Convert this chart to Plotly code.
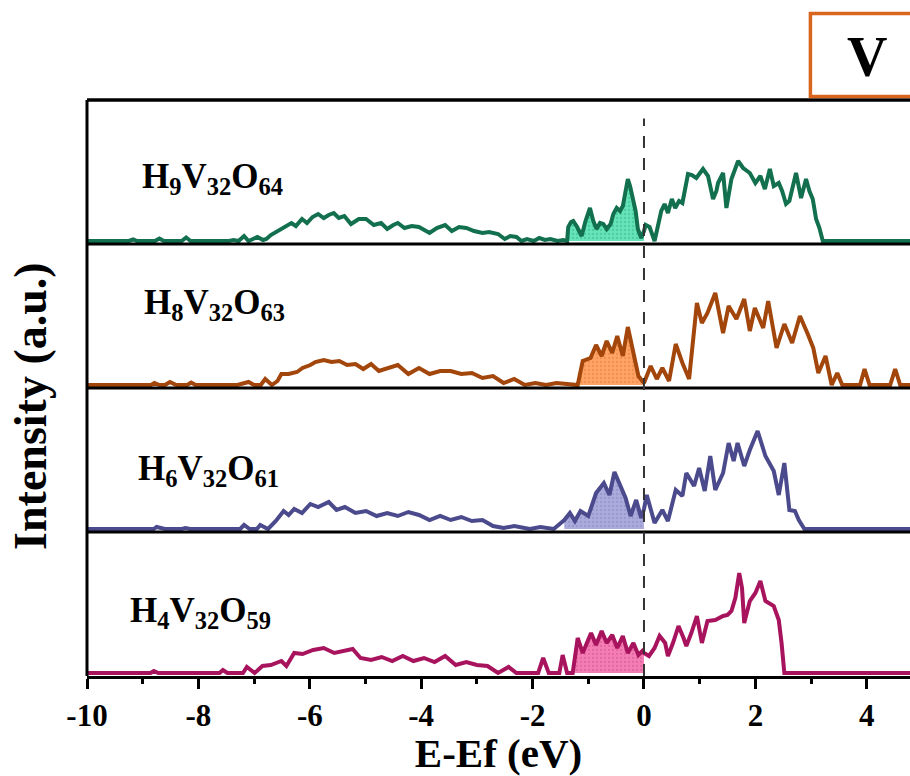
import plotly.graph_objects as go

# ---------------- data ----------------
SERIES_NAMES = ["H<sub>9</sub>V<sub>32</sub>O<sub>64</sub>",
                "H<sub>8</sub>V<sub>32</sub>O<sub>63</sub>",
                "H<sub>6</sub>V<sub>32</sub>O<sub>61</sub>",
                "H<sub>4</sub>V<sub>32</sub>O<sub>59</sub>"]

E_H9 = [-10.0, -9.25, -9.17, -9.1, -8.78, -8.7, -8.62, -8.3, -8.22, -8.14, -7.45, -7.37, -7.28, -7.18, -7.1,
        -7.02, -6.94, -6.84, -6.78, -6.70, -6.58, -6.47, -6.40, -6.33, -6.25, -6.14, -6.05, -5.95, -5.85,
        -5.75, -5.66, -5.57, -5.48, -5.38, -5.26, -5.12, -4.99, -4.85, -4.72, -4.61, -4.50, -4.42, -4.30,
        -4.17, -4.04, -3.95, -3.85, -3.72, -3.57, -3.45, -3.32, -3.19, -3.05, -2.90, -2.78, -2.62, -2.50,
        -2.40, -2.29, -2.20, -2.10, -1.98, -1.88, -1.78, -1.68, -1.55, -1.45, -1.38, -1.36, -1.31, -1.27,
        -1.20, -1.12, -1.05, -0.97, -0.91, -0.85, -0.79, -0.73, -0.67, -0.60, -0.55, -0.49, -0.43, -0.38,
        -0.33, -0.29, -0.25, -0.20, -0.15, -0.11, -0.05, 0.0, 0.03, 0.10, 0.14, 0.19, 0.25, 0.31, 0.37,
        0.43, 0.50, 0.56, 0.63, 0.69, 0.79, 0.86, 0.94, 1.00, 1.06, 1.15, 1.24, 1.30, 1.33, 1.42, 1.48,
        1.57, 1.69, 1.78, 1.90, 2.00, 2.09, 2.17, 2.26, 2.33, 2.42, 2.48, 2.55, 2.61, 2.73, 2.82, 2.91,
        2.97, 3.03, 3.09, 3.15, 3.21, 4.8]
I_H9 = [0, 0, 1.5, 0, 0, 2.5, 0, 0, 3.5, 0, 0, 1, 0, 5, 0,
        2, 4, 1, 2, 6, 10, 13, 16, 18, 15, 22, 18, 24, 27,
        23, 26, 28, 23, 25, 17, 22, 22, 16, 18, 12, 16, 18, 13,
        15, 14, 11, 8, 13, 16, 10, 14, 13, 10, 8, 9, 7, 2,
        5, 4, 0, 2, 0, 3, 1, 2, 0, 1, 0, 14, 19, 20,
        14, 5, 20, 33, 20, 12, 18, 17, 12, 17, 27, 33, 30, 35,
        50, 62, 55, 42, 30, 12, 3, 10, 16, 14, 8, 0, 15, 30, 37,
        28, 42, 33, 40, 38, 67, 66, 63, 68, 72, 65, 42, 50, 58, 68, 33,
        62, 80, 73, 68, 58, 65, 52, 72, 55, 58, 50, 37, 40, 68, 43, 62,
        50, 42, 22, 13, 0, 0]

E_H8 = [-10.0, -9.25, -9.17, -9.08, -8.85, -8.79, -8.70, -8.60, -8.51, -8.40, -8.20, -8.13, -8.05, -7.30,
        -7.10, -7.00, -6.88, -6.80, -6.68, -6.58, -6.51, -6.38, -6.23, -6.13, -5.99, -5.90, -5.75, -5.61,
        -5.47, -5.33, -5.18, -5.04, -4.90, -4.76, -4.61, -4.42, -4.23, -4.04, -3.85, -3.66, -3.47, -3.28,
        -3.09, -2.90, -2.71, -2.52, -2.33, -2.14, -1.95, -1.76, -1.57, -1.30, -1.19, -1.10, -0.96, -0.86,
        -0.76, -0.67, -0.57, -0.48, -0.38, -0.29, -0.20, -0.10, 0.0, 0.12, 0.23, 0.33, 0.45, 0.57, 0.69,
        0.81, 0.95, 1.04, 1.14, 1.28, 1.42, 1.52, 1.66, 1.80, 1.90, 1.99, 2.14, 2.23, 2.38, 2.52, 2.66,
        2.80, 2.94, 3.04, 3.13, 3.26, 3.37, 3.47, 3.56, 3.88, 3.96, 4.05, 4.42, 4.51, 4.60, 4.8]
I_H8 = [0, 0, 1, 0, 0, 2, 0, 0, 3, 0, 0, 2.5, 0, 0,
        3, 0, 0, 6, 0, 4, 11, 11, 13, 17, 20, 23, 25, 23,
        24, 20, 21, 16, 21, 14, 17, 20, 11, 17, 11, 14, 14, 11,
        12, 7, 9, 2, 6, 0, 2, 0, 2, 0, 0, 24, 27, 40,
        29, 44, 32, 49, 29, 58, 36, 9, 2, 19, 6, 17, 4, 41, 22,
        6, 82, 62, 72, 92, 52, 79, 66, 86, 54, 77, 57, 84, 37, 61, 42,
        69, 51, 37, 12, 29, 0, 12, 0, 0, 16, 0, 0, 16, 0, 0]

E_H6 = [-10.0, -9.30, -9.22, -9.15, -8.80, -8.75, -8.60, -8.30, -8.23, -8.15, -7.25, -7.18, -7.08, -6.95,
        -6.89, -6.75, -6.61, -6.47, -6.38, -6.28, -6.14, -5.99, -5.85, -5.66, -5.52, -5.37, -5.18, -4.99,
        -4.80, -4.61, -4.42, -4.23, -4.04, -3.85, -3.66, -3.47, -3.28, -3.09, -2.90, -2.71, -2.52, -2.33,
        -2.05, -1.86, -1.62, -1.43, -1.33, -1.24, -1.14, -1.00, -0.86, -0.72, -0.62, -0.53, -0.43, -0.33,
        -0.24, -0.14, -0.05, 0.0, 0.05, 0.19, 0.33, 0.43, 0.57, 0.69, 0.76, 0.90, 0.99, 1.09, 1.19, 1.28,
        1.42, 1.52, 1.61, 1.68, 1.80, 1.90, 2.04, 2.18, 2.33, 2.42, 2.52, 2.61, 2.71, 2.78, 2.88, 4.8]
I_H6 = [0, 0, 1, 0, 0, 2, 0, 0, 1, 0, 0, 4, 0, 0,
        4, 0, 8, 18, 14, 20, 16, 25, 22, 27, 19, 22, 16, 18,
        13, 16, 13, 17, 14, 9, 13, 9, 12, 8, 9, 3, 1, 3,
        0, 2, 0, 9, 16, 8, 18, 13, 36, 46, 34, 57, 44, 31,
        13, 29, 11, 20, 34, 6, 19, 8, 39, 33, 56, 43, 61, 38, 73, 39,
        56, 86, 68, 86, 63, 79, 98, 73, 58, 34, 66, 19, 18, 9, 0, 0]

E_H4 = [-10.0, -9.62, -9.56, -9.50, -8.86, -8.80, -8.72, -7.62, -7.56, -7.48, -7.20, -7.13, -6.99, -6.85,
        -6.70, -6.51, -6.42, -6.28, -6.13, -5.94, -5.75, -5.56, -5.37, -5.23, -5.09, -4.90, -4.71, -4.52,
        -4.33, -4.14, -3.95, -3.76, -3.57, -3.38, -3.19, -3.00, -2.81, -2.62, -2.43, -2.29, -1.90, -1.81,
        -1.71, -1.52, -1.46, -1.38, -1.28, -1.19, -1.10, -0.95, -0.86, -0.76, -0.67, -0.57, -0.48, -0.38,
        -0.29, -0.19, -0.10, -0.03, 0.0, 0.09, 0.19, 0.28, 0.38, 0.43, 0.52, 0.62, 0.71, 0.76, 0.85, 0.95,
        1.04, 1.14, 1.28, 1.42, 1.50, 1.57, 1.64, 1.71, 1.76, 1.80, 1.90, 2.00, 2.09, 2.18, 2.33, 2.42,
        2.47, 2.52, 4.8]
I_H4 = [0, 0, 1, 0, 0, 2, 0, 0, 3, 0, 0, 6, 0, 7,
        8, 12, 7, 20, 19, 23, 25, 20, 22, 24, 15, 13, 16, 12,
        17, 12, 15, 11, 17, 8, 11, 8, 7, 0, 6, 0, 0, 15,
        0, 0, 18, 0, 0, 35, 20, 40, 28, 42, 30, 38, 25, 37,
        20, 30, 18, 22, 20, 17, 25, 37, 30, 17, 30, 47, 35, 27, 40, 57,
        30, 52, 53, 57, 58, 62, 75, 100, 85, 50, 72, 80, 92, 72, 67, 53,
        30, 0, 0]

ENERGIES = [E_H9, E_H8, E_H6, E_H4]
INTENSITIES = [I_H9, I_H8, I_H6, I_H4]
FILL_START = [-1.36, -1.19, -1.43, -1.28]   # start of the shaded occupied block (eV)
FERMI = 0.0

X_TICKS = [-10, -8, -6, -4, -2, 0, 2, 4]
X_TICK_LABELS = ["-10", "-8", "-6", "-4", "-2", "0", "2", "4"]

# ---------------- styling ----------------
LINE_COLORS = ["#13704F", "#A2460C", "#4B4A8C", "#A8135E"]
FILL_BG = ["#66E3B9", "#FFA466", "#ABABDC", "#F47DB5"]
FILL_FG = ["#2FB487", "#E07A34", "#8585C0", "#D24F8C"]
LABEL_X = [0.064, 0.067, 0.060, 0.050]
LABEL_Y = [0.864, 0.645, 0.356, 0.111]
FONT = "Liberation Serif, Times New Roman, serif"

fig = go.Figure()
yaxes = ["y4", "y3", "y2", "y"]  # top panel -> bottom panel

for k in range(4):
    ex, iy = ENERGIES[k], INTENSITIES[k]
    fx = [e for e in ex if FILL_START[k] <= e <= FERMI]
    fy = [v for e, v in zip(ex, iy) if FILL_START[k] <= e <= FERMI]
    fig.add_trace(go.Scatter(
        x=fx, y=fy, mode="lines", line=dict(width=0), fill="tozeroy",
        fillcolor=FILL_BG[k],
        fillpattern=dict(shape=".", bgcolor=FILL_BG[k], fgcolor=FILL_FG[k], size=4, solidity=0.25),
        xaxis="x", yaxis=yaxes[k], hoverinfo="skip"))
    fig.add_trace(go.Scatter(
        x=ex, y=iy, mode="lines", line=dict(color=LINE_COLORS[k], width=4),
        xaxis="x", yaxis=yaxes[k]))

yaxis_common = dict(range=[-3, 141], showticklabels=False, showgrid=False, zeroline=False,
                    showline=False, ticks="", anchor="x", fixedrange=True)

shapes = []
# panel borders
for yy in [0.25, 0.5, 0.75]:
    shapes.append(dict(type="line", xref="paper", yref="paper", x0=0, x1=1.02, y0=yy, y1=yy,
                       line=dict(color="black", width=3)))
shapes.append(dict(type="line", xref="paper", yref="paper", x0=0, x1=1.02, y0=1, y1=1,
                   line=dict(color="black", width=3.5)))
shapes.append(dict(type="line", xref="paper", yref="paper", x0=0, x1=0, y0=0, y1=1,
                   line=dict(color="black", width=3)))
# Fermi level
shapes.append(dict(type="line", xref="x", yref="paper", x0=FERMI, x1=FERMI, y0=0, y1=0.968,
                   line=dict(color="#333333", width=2, dash="12px,10px")))
# "V" box
shapes.append(dict(type="rect", xref="paper", yref="paper", x0=0.879, x1=1.06, y0=1.006, y1=1.150,
                   line=dict(color="#D9661F", width=3.5), fillcolor="white"))

annotations = []
for k in range(4):
    annotations.append(dict(text="<b>" + SERIES_NAMES[k] + "</b>", xref="paper", yref="paper",
                            x=LABEL_X[k], y=LABEL_Y[k], xanchor="left", yanchor="middle",
                            showarrow=False, font=dict(family=FONT, size=35, color="black")))
annotations.append(dict(text="<b>Intensity (a.u.)</b>", xref="paper", yref="paper",
                        x=-0.068, y=0.469, textangle=-90, showarrow=False,
                        xanchor="center", yanchor="middle",
                        font=dict(family=FONT, size=46, color="black")))
annotations.append(dict(text="<b>V</b>", xref="paper", yref="paper", x=0.948, y=1.075,
                        showarrow=False, xanchor="center", yanchor="middle",
                        font=dict(family=FONT, size=56, color="black")))

fig.update_layout(
    width=910, height=776,
    margin=dict(l=87, r=0, t=100, b=100),
    paper_bgcolor="white", plot_bgcolor="white",
    showlegend=False,
    xaxis=dict(range=[-10, 4.776], domain=[0, 1], anchor="y",
               showline=True, linewidth=3, linecolor="black",
               ticks="outside", ticklen=10, tickwidth=3, tickcolor="black",
               tickvals=X_TICKS, ticktext=X_TICK_LABELS,
               tickfont=dict(family=FONT, size=31, color="black", weight="bold"),
               minor=dict(dtick=1, tick0=-10, ticks="outside", ticklen=5, tickwidth=3, tickcolor="black"),
               showgrid=False, zeroline=False, fixedrange=True,
               title=dict(text="<b>E-Ef (eV)</b>", standoff=6,
                          font=dict(family=FONT, size=41, color="black"))),
    yaxis=dict(domain=[0.0, 0.25], **yaxis_common),
    yaxis2=dict(domain=[0.25, 0.5], **yaxis_common),
    yaxis3=dict(domain=[0.5, 0.75], **yaxis_common),
    yaxis4=dict(domain=[0.75, 1.0], **yaxis_common),
    shapes=shapes,
    annotations=annotations,
)

fig.write_html("out.html")
